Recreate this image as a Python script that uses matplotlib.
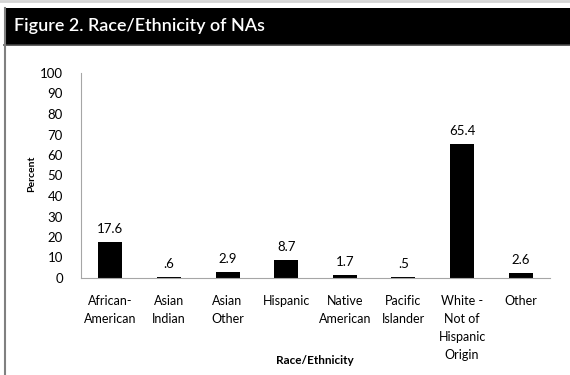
import matplotlib.pyplot as plt
from matplotlib.patches import Rectangle
from matplotlib.lines import Line2D

plt.rcParams['font.family'] = ['Lato', 'DejaVu Sans']

categories = ["African-\nAmerican", "Asian\nIndian", "Asian\nOther", "Hispanic",
              "Native\nAmerican", "Pacific\nIslander", "White -\nNot of\nHispanic\nOrigin", "Other"]
percent = [17.6, 0.6, 2.9, 8.7, 1.7, 0.5, 65.4, 2.6]


def fmt(v):
    s = "{:.1f}".format(v)
    return s[1:] if s.startswith("0.") else s


fig = plt.figure(figsize=(5.7, 3.75), dpi=100)

# header band and frame
fig.patches.append(Rectangle((4 / 570, 1 - 45 / 375), 1, 37 / 375, transform=fig.transFigure,
                             facecolor='black', edgecolor='none'))
fig.lines.append(Line2D([4 / 570, 1], [1 - 45 / 375, 1 - 45 / 375], transform=fig.transFigure,
                        color='#444444', lw=1.2))
fig.lines.append(Line2D([0, 1], [1 - 1 / 375, 1 - 1 / 375], transform=fig.transFigure,
                        color='#d4d4d4', lw=2))
fig.lines.append(Line2D([4.5 / 570, 4.5 / 570], [0, 1 - 8 / 375], transform=fig.transFigure,
                        color='#808080', lw=1.5))
fig.text(14 / 570, 1 - 26.5 / 375, "Figure 2. Race/Ethnicity of NAs", color='white',
         fontsize=13, fontweight='semibold', va='center', ha='left')

ax = fig.add_axes([81 / 570, 1 - 278 / 375, (550 - 81) / 570, 205 / 375])
x = range(len(categories))
bars = ax.bar(x, percent, width=0.41, color='black')
for b, v in zip(bars, percent):
    ax.annotate(fmt(v), (b.get_x() + b.get_width() / 2, v), xytext=(0, 5),
                textcoords='offset points', ha='center', va='bottom', fontsize=9.5)

ax.set_xlim(-0.5, len(categories) - 0.5)
ax.set_ylim(0, 100)
ax.set_yticks(range(0, 101, 10))
ax.set_xticks(list(x))
ax.set_xticklabels(categories, fontsize=9, linespacing=1.62, va='top')
ax.tick_params(axis='y', labelsize=9.5, length=0, pad=13)
ax.tick_params(axis='x', length=0, pad=12)
for s in ['top', 'right']:
    ax.spines[s].set_visible(False)
for s in ['left', 'bottom']:
    ax.spines[s].set_color('#a6a6a6')
    ax.spines[s].set_linewidth(0.8)

fig.text(32 / 570, 1 - 174 / 375, "Percent", rotation=90, fontsize=7.5, fontweight='bold',
         ha='center', va='center')
fig.text(315 / 570, 1 - 360 / 375, "Race/Ethnicity", fontsize=8.5, fontweight='bold',
         ha='center', va='center')

fig.savefig("out.png", dpi=100)
